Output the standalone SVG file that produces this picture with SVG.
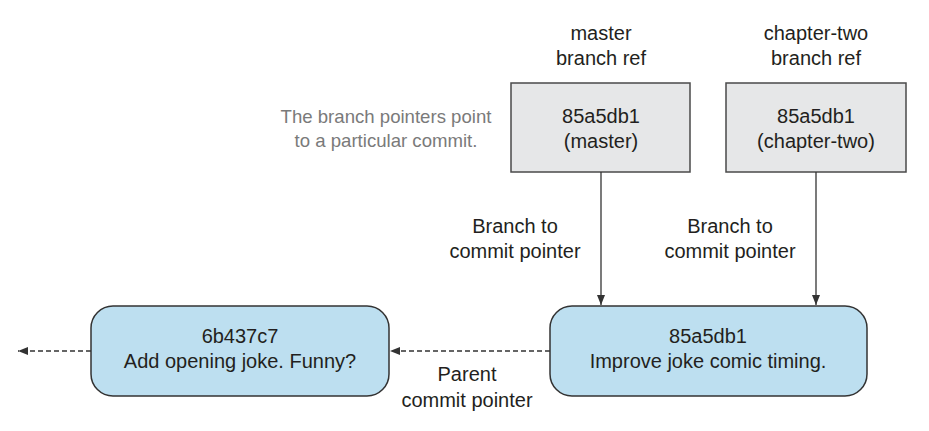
<svg xmlns="http://www.w3.org/2000/svg" width="929" height="431" viewBox="0 0 929 431">
<style>
text{font-family:"Liberation Sans",Arial,sans-serif;font-size:20px;fill:#231f20;text-anchor:middle}
.note{fill:#7a7a7a;font-size:18.6px}
.ref{fill:#e6e7e8;stroke:#4a4a4a;stroke-width:1.5}
.commit{fill:#bddff0;stroke:#333;stroke-width:1.5}
.link{stroke:#333;stroke-width:1.3;fill:none}
.dash{stroke-dasharray:5 3}
</style>
<defs>
<marker id="ah" markerWidth="10" markerHeight="8" refX="10" refY="4" orient="auto" markerUnits="userSpaceOnUse">
<path d="M0,0 L10,4 L0,8 z" fill="#333"/>
</marker>
</defs>
<rect width="929" height="431" fill="#fff"/>
<g id="note">
<text class="note" x="386" y="123">The branch pointers point</text>
<text class="note" x="386" y="147">to a particular commit.</text>
</g>
<g id="master-ref">
<text x="601" y="40">master</text>
<text x="601" y="65">branch ref</text>
<rect class="ref" x="511" y="83" width="179" height="89"/>
<text x="601" y="123">85a5db1</text>
<text x="601" y="148">(master)</text>
</g>
<g id="chapter-two-ref">
<text x="816" y="40">chapter-two</text>
<text x="816" y="65">branch ref</text>
<rect class="ref" x="726" y="83" width="180" height="89"/>
<text x="816" y="123">85a5db1</text>
<text x="816" y="148">(chapter-two)</text>
</g>
<g id="commit-85a5db1">
<rect class="commit" x="550" y="306" width="317" height="90" rx="22" ry="22"/>
<text x="708" y="343">85a5db1</text>
<text x="708" y="368">Improve joke comic timing.</text>
</g>
<g id="commit-6b437c7">
<rect class="commit" x="91" y="306" width="298" height="90" rx="22" ry="22"/>
<text x="240" y="343">6b437c7</text>
<text x="240" y="368">Add opening joke. Funny?</text>
</g>
<g id="connectors">
<line class="link" x1="601" y1="172" x2="601" y2="305" marker-end="url(#ah)"/>
<line class="link" x1="816" y1="172" x2="816" y2="305" marker-end="url(#ah)"/>
<line class="link dash" x1="550" y1="351" x2="390" y2="351" marker-end="url(#ah)"/>
<line class="link dash" x1="91" y1="351" x2="18" y2="351" marker-end="url(#ah)"/>
<text x="515" y="233">Branch to</text>
<text x="515" y="258">commit pointer</text>
<text x="730" y="233">Branch to</text>
<text x="730" y="258">commit pointer</text>
<text x="467" y="381">Parent</text>
<text x="467" y="407">commit pointer</text>
</g>
</svg>
